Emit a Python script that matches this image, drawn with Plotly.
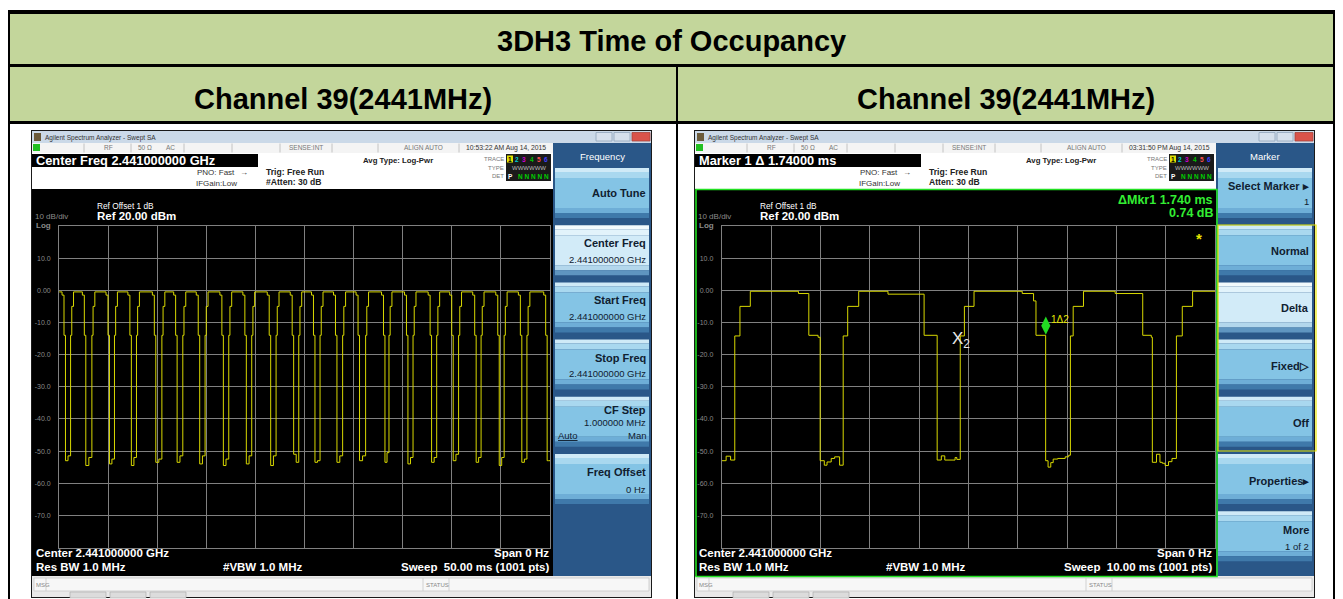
import plotly.graph_objects as go

W, H = 1343, 599
OFF = 8  # browser body margin: page content starts 8 px in
FONT = "Liberation Sans, Arial, Helvetica, sans-serif"

# ---------------- data ----------------
title_text = "3DH3 Time of Occupancy"
channel_labels = ["Channel 39(2441MHz)", "Channel 39(2441MHz)"]
y_tick_vals = [10, 0, -10, -20, -30, -40, -50, -60, -70]
y_tick_text = ["10.0", "0.00", "-10.0", "-20.0", "-30.0", "-40.0", "-50.0", "-60.0", "-70.0"]

# left screen: 50 ms sweep, step vertices (ms, dBm)
left_time_ms = [
    0.00,
    0.30, 0.50, 0.65, 0.91, 1.17, 1.29, 1.47,
    2.37, 2.57, 2.72, 3.03, 3.34, 3.46, 3.64,
    4.78, 4.98, 5.13, 5.38, 5.64, 5.76, 5.94,
    7.01, 7.21, 7.36, 7.62, 7.88, 8.00, 8.18,
    9.50, 9.70, 9.85, 10.16, 10.47, 10.59, 10.77,
    11.67, 11.87, 12.02, 12.31, 12.60, 12.72, 12.90,
    13.97, 14.17, 14.32, 14.60, 14.87, 14.99, 15.17,
    16.38, 16.58, 16.73, 17.00, 17.28, 17.40, 17.58,
    18.72, 18.92, 19.07, 19.35, 19.62, 19.74, 19.92,
    21.20, 21.40, 21.55, 21.83, 22.10, 22.22, 22.40,
    23.54, 23.74, 23.89, 24.15, 24.41, 24.53, 24.71,
    25.71, 25.91, 26.06, 26.32, 26.58, 26.70, 26.88,
    27.95, 28.15, 28.30, 28.59, 28.88, 29.00, 29.18,
    30.25, 30.45, 30.60, 30.91, 31.22, 31.34, 31.52,
    32.84, 33.04, 33.19, 33.40, 33.60, 33.72, 33.90,
    35.18, 35.38, 35.53, 35.79, 36.05, 36.17, 36.35,
    37.59, 37.79, 37.94, 38.20, 38.46, 38.58, 38.76,
    39.79, 39.99, 40.14, 40.42, 40.69, 40.81, 40.99,
    42.13, 42.33, 42.48, 42.73, 42.98, 43.10, 43.28,
    44.48, 44.68, 44.83, 45.08, 45.33, 45.45, 45.63,
    46.78, 46.98, 47.13, 47.39, 47.65, 47.77, 47.95,
    49.36, 49.56, 49.71, 49.85, 50.00,
]
left_level_dbm = [
    -0.5,
    -1.5, -14.0, -53.0, -51.5, -14.0, -5.0, -0.5,
    -1.5, -14.0, -54.5, -52.0, -14.0, -5.0, -0.5,
    -1.5, -14.0, -54.0, -52.5, -14.0, -5.0, -0.5,
    -1.5, -14.0, -54.5, -52.0, -14.0, -5.0, -0.5,
    -1.5, -14.0, -53.5, -52.5, -14.0, -5.0, -0.5,
    -1.5, -14.0, -53.5, -51.5, -14.0, -5.0, -0.5,
    -1.5, -14.0, -54.0, -51.5, -14.0, -5.0, -0.5,
    -1.5, -14.0, -54.5, -52.5, -14.0, -5.0, -0.5,
    -1.5, -14.0, -54.0, -51.5, -14.0, -5.0, -0.5,
    -1.5, -14.0, -54.5, -51.5, -14.0, -5.0, -0.5,
    -1.5, -14.0, -51.0, -53.5, -14.0, -5.0, -0.5,
    -1.5, -14.0, -53.5, -53.0, -14.0, -5.0, -0.5,
    -1.5, -14.0, -53.5, -51.5, -14.0, -5.0, -0.5,
    -1.5, -14.0, -53.0, -51.5, -14.0, -5.0, -0.5,
    -1.5, -14.0, -53.5, -50.5, -14.0, -5.0, -0.5,
    -1.5, -14.0, -54.0, -52.0, -14.0, -5.0, -0.5,
    -1.5, -14.0, -53.5, -52.0, -14.0, -5.0, -0.5,
    -1.5, -14.0, -53.0, -51.0, -14.0, -5.0, -0.5,
    -1.5, -14.0, -53.5, -52.0, -14.0, -5.0, -0.5,
    -1.5, -14.0, -54.5, -52.0, -14.0, -5.0, -0.5,
    -1.5, -14.0, -53.5, -52.5, -14.0, -5.0, -0.5,
    -1.5, -14.0, -53.0, -53.0, -53.0,
]

# right screen: 10 ms sweep, step vertices (ms, dBm)
right_time_ms = [0.0, 0.09, 0.18, 0.265, 0.37, 0.58, 1.556, 1.766, 1.954,
                 1.996, 2.08, 2.135, 2.22, 2.29, 2.39, 2.463, 2.554, 2.777, 3.371, 4.103,
                 4.368, 4.452, 4.522, 4.731, 4.766, 4.836, 4.92, 5.115, 6.092, 6.322, 6.371,
                 6.567, 6.616, 6.671, 6.72, 6.811, 6.964, 7.034, 7.069, 7.125, 7.334, 7.976,
                 8.535, 8.709, 8.73, 8.814, 8.884, 8.932, 8.988, 9.058, 9.128, 9.218, 9.337,
                 9.546, 10.0]
right_level_dbm = [-53.0, -51.6, -52.8, -14.2, -5.0, -0.3, -1.0, -14.0, -14.6,
                   -53.0, -54.4, -53.4, -52.3, -51.8, -54.4, -14.2, -5.0, -0.3, -1.2, -14.0,
                   -52.8, -51.5, -52.8, -52.0, -52.6, -14.2, -5.0, -0.3, -1.0, -3.3, -14.0,
                   -53.0, -55.0, -53.6, -52.5, -52.3, -51.8, -51.3, -14.2, -5.0, -0.3, -1.0,
                   -14.0, -14.6, -53.5, -51.0, -53.5, -53.8, -54.5, -53.3, -52.3, -14.2, -5.0,
                   -0.3, -0.3]
marker1 = (6.57, -11.0)
marker2 = (4.85, -15.5)
star_pos = (9.67, 16.0)

# ---------------- helpers ----------------
shapes, annos = [], []


def X(px):
    return (px - OFF) / W


def Y(py):
    return 1 - (py - OFF) / H


def rect(x0, y0, x1, y1, fill, line=None, lw=0, layer="below"):
    shapes.append(dict(type="rect", xref="paper", yref="paper",
                       x0=X(x0), x1=X(x1), y0=Y(y1), y1=Y(y0),
                       fillcolor=fill, layer=layer,
                       line=dict(width=lw, color=line if line else fill)))


def vline(x, y0, y1, color, lw=1):
    shapes.append(dict(type="line", xref="paper", yref="paper", x0=X(x), x1=X(x),
                       y0=Y(y0), y1=Y(y1), line=dict(color=color, width=lw), layer="below"))


def text(x, y, s, size=8, color="#ffffff", bold=False, anchor="left"):
    annos.append(dict(xref="paper", yref="paper", x=X(x), y=Y(y),
                      text=("<b>%s</b>" % s) if bold else s, showarrow=False,
                      xanchor=anchor, yanchor="middle", borderpad=0,
                      font=dict(size=size, color=color, family=FONT)))


# ---------------- table ----------------
GREEN = "#c3d69b"
rect(6, 10, 1337, 620, "#000000")
rect(10, 14, 1333, 64, GREEN)
rect(10, 67, 676, 121, GREEN)
rect(678, 67, 1333, 121, GREEN)
rect(10, 124, 676, 620, "#ffffff")
rect(678, 124, 1333, 620, "#ffffff")
text(671.5, 40.5, title_text, size=29, color="#000000", bold=True, anchor="center")
text(343, 98.5, channel_labels[0], size=29, color="#000000", bold=True, anchor="center")
text(1005.5, 98.5, channel_labels[1], size=29, color="#000000", bold=True, anchor="center")

KEY_BANDS = [(0, 4, "#cfeaf7"), (4, 10, "#a9d8ef"), (10, 40, "#84c4e5"),
             (40, 45, "#6eaed7"), (45, 50, "#3f79aa")]
KEY_BANDS_SEL = [(0, 4, "#f2fafd"), (4, 10, "#e2f3fb"), (10, 40, "#d2ebf8"),
                 (40, 45, "#b3d7ec"), (45, 50, "#5f95c0")]


# ---------------- analyzer screen chrome ----------------
def screen(ox, header, timestamp, atten, sweep, keys_title, keys):
    rect(ox + 31, 130, ox + 652, 598, "#1a1a1a")
    # window title bar
    rect(ox + 32, 131, ox + 651, 143, "#cbd9e8")
    rect(ox + 34, 133, ox + 41, 141, "#6b5a3a")
    text(ox + 44, 137.5, "Agilent Spectrum Analyzer - Swept SA", size=6.5, color="#333333")
    rect(ox + 596, 132.5, ox + 612, 141, "#d6e0ec", "#8fa3ba", 0.8)
    rect(ox + 614, 132.5, ox + 630, 141, "#d6e0ec", "#8fa3ba", 0.8)
    rect(ox + 632, 132.5, ox + 650, 141, "#d9534a", "#a8423a", 0.8)
    # status row
    rect(ox + 32, 143, ox + 553, 153, "#f4f4f4")
    rect(ox + 33, 144, ox + 40, 151, "#22c022")
    for sx in [84, 131, 184, 232, 280, 332, 378, 459]:
        vline(ox + sx, 143.5, 152.5, "#b8b8b8", 0.8)
    text(ox + 108, 148, "RF", size=6.5, color="#777777", anchor="center")
    text(ox + 137, 148, "50 Ω", size=6.5, color="#777777")
    text(ox + 165, 148, "AC", size=6.5, color="#777777")
    text(ox + 306, 148, "SENSE:INT", size=6.5, color="#777777", anchor="center")
    text(ox + 423, 148, "ALIGN AUTO", size=6.5, color="#777777", anchor="center")
    text(ox + 506, 148, timestamp, size=6.8, color="#333333", anchor="center")
    # header area
    rect(ox + 32, 153, ox + 553, 189, "#ffffff")
    rect(ox + 32, 154, ox + 258, 167, "#000000")
    text(ox + 35, 160.5, header, size=12.8, color="#ffffff", bold=True)
    text(ox + 398, 160.5, "Avg Type: Log-Pwr", size=7.8, color="#222222", bold=True, anchor="center")
    text(ox + 236, 172.5, "PNO: Fast", size=8, color="#333333", anchor="right")
    text(ox + 239, 172.5, "→", size=8, color="#333333")
    text(ox + 238, 183.5, "IFGain:Low", size=8, color="#333333", anchor="right")
    text(ox + 265, 171.5, "Trig: Free Run", size=8.6, color="#222222", bold=True)
    text(ox + 265, 182.5, atten, size=8.6, color="#222222", bold=True)
    # trace indicator
    rect(ox + 506, 154, ox + 551, 181, "#1a1a1a")
    text(ox + 505, 159, "TRACE", size=6, color="#777777", anchor="right")
    text(ox + 505, 167.5, "TYPE", size=6, color="#777777", anchor="right")
    text(ox + 505, 176, "DET", size=6, color="#777777", anchor="right")
    rect(ox + 507, 155.5, ox + 513, 162.5, "#e0e000")
    text(ox + 510, 159, "1", size=6.5, color="#000000", bold=True, anchor="center")
    for i, c in enumerate(["#00d0d0", "#d000d0", "#00c000", "#ff5050", "#4040ff"]):
        text(ox + 517 + i * 7.3, 159, str(i + 2), size=6.5, color=c, bold=True, anchor="center")
    text(ox + 529, 167.5, "WWWWWW", size=6, color="#bbbbbb", anchor="center")
    text(ox + 510, 176, "P", size=6.5, color="#ffffff", bold=True, anchor="center")
    text(ox + 533, 176, "N N N N N", size=6.5, color="#00d000", bold=True, anchor="center")
    # graph region
    rect(ox + 32, 189, ox + 553, 576, "#000000")
    text(ox + 96, 206, "Ref Offset 1 dB", size=8.3, color="#ffffff")
    text(ox + 96, 216.5, "Ref 20.00 dBm", size=11.5, color="#ffffff", bold=True)
    text(ox + 34, 217, "10 dB/div", size=8, color="#8a8a8a")
    text(ox + 35, 225, "Log", size=8, color="#8a8a8a", bold=True)
    text(ox + 35, 553, "Center 2.441000000 GHz", size=11.5, color="#ffffff", bold=True)
    text(ox + 35, 567, "Res BW 1.0 MHz", size=11.5, color="#ffffff", bold=True)
    text(ox + 262, 567, "#VBW 1.0 MHz", size=11.5, color="#ffffff", bold=True, anchor="center")
    text(ox + 550, 553, "Span 0 Hz", size=11.5, color="#ffffff", bold=True, anchor="right")
    text(ox + 550, 567, sweep, size=11.5, color="#ffffff", bold=True, anchor="right")
    # msg bar
    rect(ox + 32, 576, ox + 651, 597, "#e9e9e9")
    rect(ox + 34, 578, ox + 649, 591, "#f7f7f7", "#c8c8c8", 0.8)
    vline(ox + 46, 578, 591, "#c8c8c8", 0.8)
    vline(ox + 423, 578, 591, "#c8c8c8", 0.8)
    vline(ox + 449, 578, 591, "#c8c8c8", 0.8)
    text(ox + 35, 584.5, "MSG", size=6, color="#888888")
    text(ox + 425, 584.5, "STATUS", size=6, color="#888888")
    for tx in [70, 110, 150]:
        rect(ox + tx, 592, ox + tx + 36, 598, "#dcdcdc", "#aaaaaa", 0.6)
    # softkey panel
    rect(ox + 553, 143, ox + 651, 576, "#2a5788")
    text(ox + 602, 156.5, keys_title, size=9.5, color="#ffffff", anchor="center")
    for i, key in enumerate(keys):
        y0 = 168 + i * 57.2
        bands = KEY_BANDS_SEL if key.get("sel", False) else KEY_BANDS
        for (b0, b1, col) in bands:
            rect(ox + 555, y0 + b0, ox + 649, y0 + b1, col)
        for (s, yy, sz, b) in key["lines"]:
            text(ox + 647, y0 + yy, s, size=sz, color="#102030", bold=b, anchor="right")
        for (s, xx, yy, sz) in key.get("extra", []):
            text(ox + xx, y0 + yy, s, size=sz, color="#102030")


left_keys = [
    {"lines": [("Auto Tune", 25, 11, True)]},
    {"lines": [("Center Freq", 18, 11, True), ("2.441000000 GHz", 34, 9.5, False)], "sel": True},
    {"lines": [("Start Freq", 18, 11, True), ("2.441000000 GHz", 34, 9.5, False)]},
    {"lines": [("Stop Freq", 18, 11, True), ("2.441000000 GHz", 34, 9.5, False)]},
    {"lines": [("CF Step", 13, 11, True), ("1.000000 MHz", 26, 9.5, False), ("Man", 39, 9.5, False)],
     "extra": [("<u>Auto</u>", 557, 39, 9.5)]},
    {"lines": [("Freq Offset", 18, 11, True), ("0 Hz", 35, 9.5, False)]},
]
right_keys = [
    {"lines": [("Select Marker ▸", 18, 11, True), ("1", 33, 9.5, False)]},
    {"lines": [("Normal", 26, 11, True)]},
    {"lines": [("Delta", 26, 11, True)], "sel": True},
    {"lines": [("Fixed▷", 26, 11, True)]},
    {"lines": [("Off", 26, 11, True)]},
    {"lines": [("Properties▸", 27, 11, True)]},
    {"lines": [("More", 19, 11, True), ("1 of 2", 35, 9.5, False)]},
]

screen(0, "Center Freq 2.441000000 GHz", "10:53:22 AM Aug 14, 2015", "#Atten: 30 dB",
       "Sweep  50.00 ms (1001 pts)", "Frequency", left_keys)
screen(663, "Marker 1 Δ 1.74000 ms", "03:31:50 PM Aug 14, 2015", "Atten: 30 dB",
       "Sweep  10.00 ms (1001 pts)", "Marker", right_keys)

# right-screen extras
rect(663 + 33, 189.5, 663 + 554, 576.5, "rgba(0,0,0,0)", "#22e022", 1.6)
rect(1218, 225, 1316, 451, "rgba(0,0,0,0)", "#e6e600", 1.2)
text(1214, 200, "ΔMkr1 1.740 ms", size=12.5, color="#33ee33", bold=True, anchor="right")
text(1214, 213, "0.74 dB", size=12.5, color="#33ee33", bold=True, anchor="right")

# ---------------- plots ----------------
GRID = "#808080"
TRACE = "#d8d800"


def xaxis(dom, rng, step, anchor):
    return dict(domain=[X(dom[0]), X(dom[1])], range=rng, anchor=anchor,
                tickvals=[step * k for k in range(1, 10)], showticklabels=False, ticks="",
                showgrid=True, gridcolor=GRID, gridwidth=1, zeroline=False,
                showline=True, linecolor=GRID, linewidth=1, mirror=True, fixedrange=True)


def yaxis(anchor):
    return dict(domain=[Y(547.5), Y(226)], range=[-80, 20], anchor=anchor,
                tickvals=y_tick_vals, ticktext=y_tick_text, ticks="",
                tickfont=dict(size=7, color="#8a8a8a", family=FONT), ticklabelstandoff=6,
                showgrid=True, gridcolor=GRID, gridwidth=1, zeroline=False,
                showline=True, linecolor=GRID, linewidth=1, mirror=True, fixedrange=True)


fig = go.Figure()
fig.add_trace(go.Scatter(x=left_time_ms, y=left_level_dbm, mode="lines", line_shape="hv",
                         line=dict(color=TRACE, width=1), xaxis="x", yaxis="y", hoverinfo="skip"))
fig.add_trace(go.Scatter(x=right_time_ms, y=right_level_dbm, mode="lines", line_shape="hv",
                         line=dict(color=TRACE, width=1), xaxis="x2", yaxis="y2", hoverinfo="skip"))
fig.add_trace(go.Scatter(x=[marker1[0]], y=[marker1[1]], mode="markers",
                         marker=dict(symbol="diamond-tall", size=13, color="#22dd22"),
                         xaxis="x2", yaxis="y2", hoverinfo="skip"))

annos.append(dict(xref="x2", yref="y2", x=marker1[0] + 0.06, y=marker1[1] + 2.0, text="1Δ2",
                  showarrow=False, xanchor="left", yanchor="middle",
                  font=dict(size=10, color="#e6e600", family=FONT)))
annos.append(dict(xref="x2", yref="y2", x=marker2[0], y=marker2[1], text="X<sub>2</sub>",
                  showarrow=False, xanchor="center", yanchor="middle",
                  font=dict(size=17, color="#e8e8e8", family=FONT)))
annos.append(dict(xref="x2", yref="y2", x=star_pos[0], y=star_pos[1], text="<b>*</b>",
                  showarrow=False, xanchor="center", yanchor="middle",
                  font=dict(size=15, color="#e6e600", family=FONT)))

fig.update_layout(
    width=W, height=H, margin=dict(l=0, r=0, t=0, b=0),
    paper_bgcolor="#ffffff", plot_bgcolor="#000000", showlegend=False,
    xaxis=xaxis((59.1, 550.0), [0, 50], 5, "y"),
    yaxis=yaxis("x"),
    xaxis2=xaxis((721.7, 1215.0), [0, 10], 1, "y2"),
    yaxis2=yaxis("x2"),
    shapes=shapes, annotations=annos,
)
fig.write_html("out.html")
